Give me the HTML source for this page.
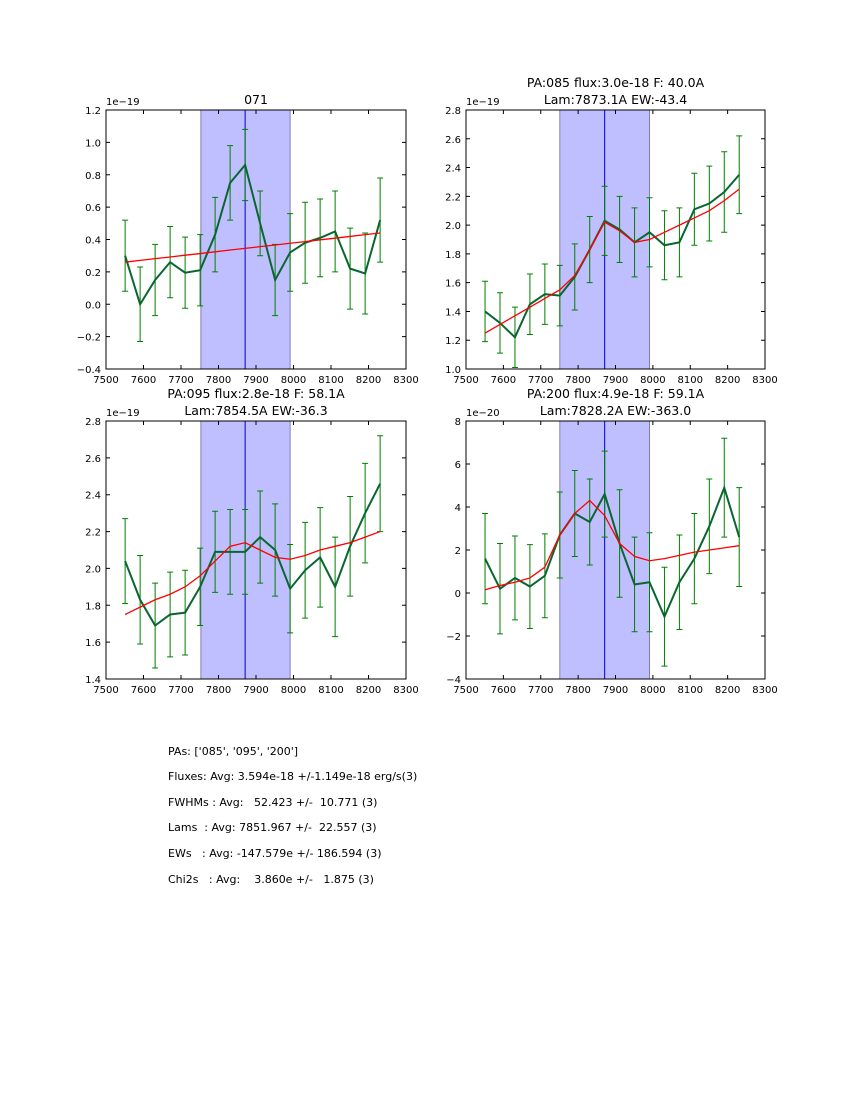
<!DOCTYPE html>
<html><head><meta charset="utf-8"><style>
body{margin:0;background:#fff;font-family:"DejaVu Sans",sans-serif;}
.txt{position:absolute;left:168px;font-size:11px;color:#000;white-space:pre;font-family:"DejaVu Sans",sans-serif;}
</style></head><body>
<div style="position:relative;width:850px;height:1100px;">
<svg id="fig" width="850" height="1100" style="position:absolute;left:0;top:0"></svg>
<div class="txt" style="top:745px">PAs: ['085', '095', '200']</div>
<div class="txt" style="top:770px">Fluxes: Avg: 3.594e-18 +/-1.149e-18 erg/s(3)</div>
<div class="txt" style="top:796px">FWHMs : Avg:   52.423 +/-  10.771 (3)</div>
<div class="txt" style="top:821px">Lams  : Avg: 7851.967 +/-  22.557 (3)</div>
<div class="txt" style="top:847px">EWs   : Avg: -147.579e +/- 186.594 (3)</div>
<div class="txt" style="top:873px">Chi2s   : Avg:    3.860e +/-   1.875 (3)</div>
</div>
<script>
const xStart = 7551, xStep = 40;
const p1Data = [0.3,0.0,0.15,0.26,0.195,0.21,0.43,0.75,0.86,0.5,0.15,0.32,0.38,0.41,0.45,0.22,0.19,0.52];
const p1Err = [0.22,0.23,0.22,0.22,0.22,0.22,0.23,0.23,0.22,0.2,0.22,0.24,0.25,0.24,0.25,0.25,0.25,0.26];
const p1Fit = [0.26,0.271,0.282,0.292,0.303,0.313,0.324,0.335,0.345,0.356,0.366,0.377,0.387,0.398,0.408,0.419,0.43,0.44];
const p2Data = [1.40,1.32,1.22,1.45,1.52,1.51,1.64,1.83,2.03,1.97,1.88,1.95,1.86,1.88,2.11,2.15,2.23,2.35];
const p2Err = [0.21,0.21,0.21,0.21,0.21,0.21,0.23,0.23,0.24,0.23,0.24,0.24,0.24,0.24,0.25,0.26,0.28,0.27];
const p2Fit = [1.25,1.31,1.37,1.43,1.49,1.55,1.65,1.83,2.02,1.96,1.88,1.90,1.95,2.00,2.05,2.10,2.17,2.25];
const p3Data = [2.04,1.83,1.69,1.75,1.76,1.90,2.09,2.09,2.09,2.17,2.10,1.89,1.99,2.06,1.90,2.12,2.30,2.46];
const p3Err = [0.23,0.24,0.23,0.23,0.23,0.21,0.22,0.23,0.23,0.25,0.25,0.24,0.26,0.27,0.27,0.27,0.27,0.26];
const p3Fit = [1.75,1.79,1.83,1.86,1.90,1.96,2.04,2.12,2.14,2.10,2.06,2.05,2.07,2.10,2.12,2.14,2.17,2.20];
const p4Data = [1.6,0.2,0.7,0.3,0.8,2.7,3.7,3.3,4.6,2.3,0.4,0.5,-1.1,0.5,1.6,3.1,4.9,2.6];
const p4Err = [2.1,2.1,1.95,1.95,1.95,2.0,2.0,2.0,2.0,2.5,2.2,2.3,2.3,2.2,2.1,2.2,2.3,2.3];
const p4Fit = [0.15,0.35,0.5,0.7,1.2,2.7,3.7,4.3,3.6,2.3,1.7,1.5,1.6,1.75,1.9,2.0,2.1,2.2];
const xTicks = [7500,7600,7700,7800,7900,8000,8100,8200,8300];
const p1YTicks = [-0.4,-0.2,0.0,0.2,0.4,0.6,0.8,1.0,1.2];
const p2YTicks = [1.0,1.2,1.4,1.6,1.8,2.0,2.2,2.4,2.6,2.8];
const p3YTicks = [1.4,1.6,1.8,2.0,2.2,2.4,2.6,2.8];
const p4YTicks = [-4,-2,0,2,4,6,8];
const spans = [[7753,7991,7871],[7751,7991,7871],[7753,7991,7871],[7751,7991,7871]];

const NS="http://www.w3.org/2000/svg";
const FF='DejaVu Sans, sans-serif';
const svg=document.getElementById('fig');
function mk(tag,attrs,parent){const e=document.createElementNS(NS,tag);for(const k in attrs)e.setAttribute(k,attrs[k]);(parent||svg).appendChild(e);return e;}
function fmt(v,dec){return (v<0?'\u2212':'')+Math.abs(v).toFixed(dec);}

const panels=[
 {x0:106,y0:110,w:300,h:259,data:p1Data,err:p1Err,fit:p1Fit,yt:p1YTicks,dec:1,exp:'1e\u221219',title:['071']},
 {x0:466,y0:110,w:299,h:259,data:p2Data,err:p2Err,fit:p2Fit,yt:p2YTicks,dec:1,exp:'1e\u221219',title:['PA:085 flux:3.0e-18 F: 40.0A','Lam:7873.1A EW:-43.4']},
 {x0:106,y0:421,w:300,h:258,data:p3Data,err:p3Err,fit:p3Fit,yt:p3YTicks,dec:1,exp:'1e\u221219',title:['PA:095 flux:2.8e-18 F: 58.1A','Lam:7854.5A EW:-36.3']},
 {x0:466,y0:421,w:299,h:258,data:p4Data,err:p4Err,fit:p4Fit,yt:p4YTicks,dec:0,exp:'1e\u221220',title:['PA:200 flux:4.9e-18 F: 59.1A','Lam:7828.2A EW:-363.0']}
];
panels.forEach((p,pi)=>{
 const g=mk('g',{});
 
 
 const ymin=p.yt[0],ymax=p.yt[p.yt.length-1];
 const X=v=>p.x0+(v-7500)/800*p.w;
 const Y=v=>p.y0+p.h-(v-ymin)/(ymax-ymin)*p.h;
 const sp=spans[pi];
 const r=mk('rect',{x:X(sp[0]),y:p.y0,width:X(sp[1])-X(sp[0]),height:p.h,fill:'#bfbfff',stroke:'#8080b0','stroke-width':1},g);
 
 
 const vl=mk('line',{x1:X(sp[2]),x2:X(sp[2]),y1:p.y0,y2:p.y0+p.h,stroke:'#0000cc','stroke-width':1},g);
 
 
 p.data.forEach((v,i)=>{
  const x=X(xStart+i*xStep),yt=Y(v+p.err[i]),yb=Y(v-p.err[i]);
  const e=mk('path',{d:`M${x},${yt}V${yb}M${x-3},${yt}H${x+3}M${x-3},${yb}H${x+3}`,stroke:'#008000','stroke-width':1,fill:'none'},g);
  
  
 });
 const dl=mk('polyline',{points:p.data.map((v,i)=>X(xStart+i*xStep)+','+Y(v)).join(' '),fill:'none',stroke:'#0a6630','stroke-width':2},g);
 
 
 const fl=mk('polyline',{points:p.fit.map((v,i)=>X(xStart+i*xStep)+','+Y(v)).join(' '),fill:'none',stroke:'#ff0000','stroke-width':1.3},g);
 
 
 const fr=mk('rect',{x:p.x0,y:p.y0,width:p.w,height:p.h,fill:'none',stroke:'#000','stroke-width':1},g);
 
 
 xTicks.forEach(t=>{
  const x=X(t);
  mk('path',{d:`M${x},${p.y0+p.h}v-4M${x},${p.y0}v4`,stroke:'#000'},g);
  const tx=mk('text',{x:x,y:p.y0+p.h+14,'font-size':10,'text-anchor':'middle','font-family':FF},g);
  tx.textContent=t;
  
  
 });
 p.yt.forEach(t=>{
  const y=Y(t);
  mk('path',{d:`M${p.x0},${y}h4M${p.x0+p.w},${y}h-4`,stroke:'#000'},g);
  const tx=mk('text',{x:p.x0-5,y:y+4,'font-size':10,'text-anchor':'end','font-family':FF},g);
  tx.textContent=fmt(t,p.dec);
  
  
 });
 const ex=mk('text',{x:p.x0,y:p.y0-5,'font-size':10,'font-family':FF},g);
 ex.textContent=p.exp;
 
 
 p.title.forEach((t,k)=>{
  const tt=mk('text',{x:p.x0+p.w/2,y:p.y0-6-(p.title.length-1-k)*17,'font-size':12.5,'text-anchor':'middle','font-family':FF},g);
  tt.textContent=t;
  
  
 });
});
</script>
</body></html>
